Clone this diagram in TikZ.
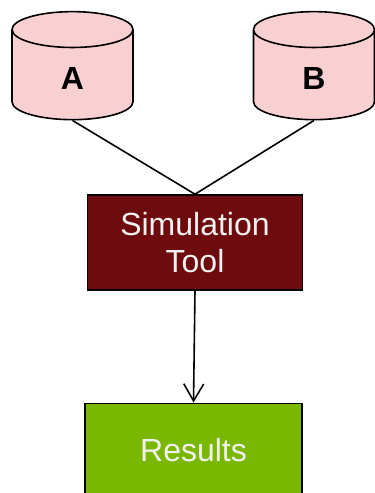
\documentclass[tikz,border=0pt]{standalone}
\usepackage{fontspec}
\setmainfont{Liberation Sans}
\usetikzlibrary{shapes.geometric, arrows.meta, positioning}
\definecolor{dbpink}{HTML}{F9D0D1}
\definecolor{tooldark}{HTML}{6E0B0F}
\definecolor{resgreen}{HTML}{7AB800}
\definecolor{boxtext}{HTML}{F0F0F0}

\begin{document}
\begin{tikzpicture}[
        x=1pt, y=-1pt,
        basic/.style    = {draw=black, line width=1.6pt, inner sep=0pt, align=center},
        database/.style = {basic, cylinder, shape border rotate=90, shape aspect=1.55, fill=dbpink,
                           minimum height=108pt, minimum width=121pt, text height=29pt,
                           font=\fontsize{32}{36}\selectfont\bfseries},
        tool/.style     = {basic, rectangle, fill=tooldark, text=boxtext, minimum width=215pt, minimum height=95pt,
                           font=\fontsize{32}{37}\selectfont},
        result/.style   = {basic, rectangle, fill=resgreen, text=boxtext, minimum width=217pt, minimum height=100pt,
                           text depth=6pt, font=\fontsize{32}{37}\selectfont},
        link/.style     = {black, line width=1.6pt},
        >={Straight Barb[length=6mm, width=7mm]}]

    \useasboundingbox (0,0) rectangle (375,493);

    % the two data sources
    \node[database] (dbA) at (72.5,75) {A};
    \node[database] (dbB) at (314,75) {B};

    % tool and its output
    \node[tool] (sim) at (195,242.5) {Simulation \\ Tool};
    \node[result, anchor=north] (res) at (193.5,402.5) {Results};

    % lines between them
    \foreach \value in {A,B}
        \draw[link] (db\value.south) -- (sim.north);
    \draw[link,->] (sim.south) -- (res.north);
\end{tikzpicture}
\end{document}
